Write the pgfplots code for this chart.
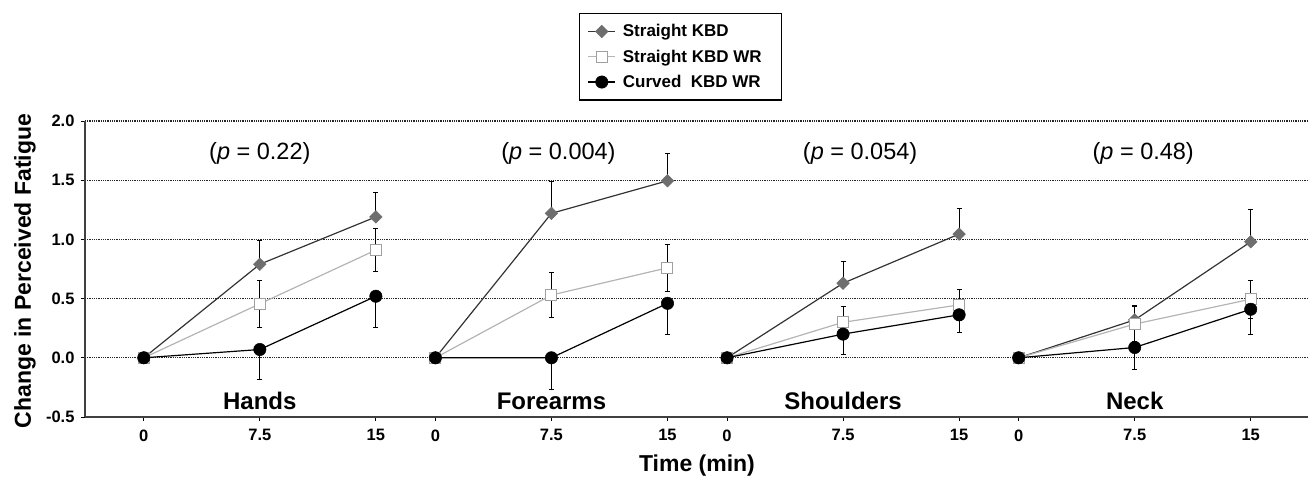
\documentclass[border=0pt]{standalone}
\usepackage{fontspec}
\setmainfont{Liberation Sans}
\usepackage{pgfplots}
\pgfplotsset{compat=1.18}
\definecolor{skline}{HTML}{333333}
\definecolor{skfill}{HTML}{6E6E6E}
\definecolor{wrline}{HTML}{B4B4B4}
\definecolor{wrmark}{HTML}{A0A0A0}
\pgfplotsset{
  skst/.style={draw=skline, line width=1.2bp, mark=diamond*, mark size=6.3bp,
    mark options={fill=skfill, draw=skfill, line width=0.5bp, xscale=1.33},
    error bars/.cd, y dir=plus, y explicit,
    error bar style={black, line width=1bp},
    error mark options={black, line width=1bp, rotate=90, mark size=2.5bp}, /pgfplots/.cd},
  wrst/.style={draw=wrline, line width=1.2bp, mark=square*, mark size=5.5bp,
    mark options={fill=white, draw=wrmark, line width=1bp},
    error bars/.cd, y dir=both, y explicit,
    error bar style={black, line width=1bp},
    error mark options={black, line width=1bp, rotate=90, mark size=2.5bp}, /pgfplots/.cd},
  ckst/.style={draw=black, line width=1.2bp, mark=*, mark size=6.2bp,
    mark options={fill=black, draw=black, line width=0.5bp},
    error bars/.cd, y dir=minus, y explicit,
    error bar style={black, line width=1bp},
    error mark options={black, line width=1bp, rotate=90, mark size=2.5bp}, /pgfplots/.cd},
}
\begin{document}
\begin{tikzpicture}
\useasboundingbox (-85bp,-61bp) rectangle (1224bp,417bp);
\begin{axis}[
  scale only axis, width=1223bp, height=296bp,
  xmin=-3.8, xmax=75.25, ymin=-0.5, ymax=2.0,
  axis x line*=bottom, axis y line*=left,
  axis line style={line width=1.2bp, draw=black!75, -},
  ytick={-0.5,0,0.5,1,1.5,2},
  yticklabel style={/pgf/number format/fixed, /pgf/number format/fixed zerofill, /pgf/number format/precision=1, xshift=-3bp},
  xticklabel style={yshift=-5bp},
  xtick={0,7.5,15,18.85,26.35,33.85,37.7,45.2,52.7,56.55,64.05,71.55},
  xticklabels={0,7.5,15,0,7.5,15,0,7.5,15,0,7.5,15},
  tick align=outside, major tick length=4bp,
  tick style={black, line width=0.8bp},
  ymajorgrids, grid style={black!85, dash pattern=on 1bp off 0.8bp, line width=1.2bp},
  /pgf/number format/assume math mode=true,
  tick label style={font=\fontsize{16.5bp}{19bp}\selectfont\bfseries},
  ylabel={Change in Perceived Fatigue},
  ylabel style={at={(axis description cs:-0.049,0.493)}, anchor=center, font=\fontsize{23bp}{26bp}\selectfont\bfseries},
  xlabel={Time (min)},
  xlabel style={at={(axis description cs:0.5004,-0.1655)}, anchor=center, font=\fontsize{23bp}{26bp}\selectfont\bfseries},
  legend style={at={(axis description cs:0.404,1.365)}, anchor=north west, draw=black, line width=1.2bp,
    font=\fontsize{17bp}{19bp}\selectfont\bfseries, cells={anchor=west}, row sep=7.5bp, inner xsep=8bp, inner ysep=9bp,
    /tikz/every odd column/.append style={column sep=5bp}},
  legend image code/.code={\draw[mark repeat=2,mark phase=2,#1] plot coordinates {(0bp,0bp) (13.5bp,0bp) (27bp,0bp)};},
]
% Hands
\addplot[skst] coordinates {(0,0) +- (0,0) (7.5,0.79) +- (0,0.20) (15,1.19) +- (0,0.21)};
\addlegendentry{Straight KBD}
\addplot[wrst] coordinates {(0,0) +- (0,0) (7.5,0.456) +- (0,0.20) (15,0.91) +- (0,0.18)};
\addlegendentry{Straight KBD WR\hspace*{10bp}}
\addplot[ckst] coordinates {(0,0) +- (0,0) (7.5,0.07) +- (0,0.25) (15,0.52) +- (0,0.26)};
\addlegendentry{Curved\ \ KBD WR}
% Forearms
\addplot[forget plot, skst] coordinates {(18.85,0) +- (0,0) (26.35,1.22) +- (0,0.27) (33.85,1.495) +- (0,0.23)};
\addplot[forget plot, wrst] coordinates {(18.85,0) +- (0,0) (26.35,0.53) +- (0,0.19) (33.85,0.76) +- (0,0.20)};
\addplot[forget plot, ckst] coordinates {(18.85,0) +- (0,0) (26.35,0.0) +- (0,0.265) (33.85,0.46) +- (0,0.26)};
% Shoulders
\addplot[forget plot, skst] coordinates {(37.7,0) +- (0,0) (45.2,0.63) +- (0,0.18) (52.7,1.045) +- (0,0.215)};
\addplot[forget plot, wrst] coordinates {(37.7,0) +- (0,0) (45.2,0.30) +- (0,0.13) (52.7,0.447) +- (0,0.13)};
\addplot[forget plot, ckst] coordinates {(37.7,0) +- (0,0) (45.2,0.20) +- (0,0.175) (52.7,0.363) +- (0,0.15)};
% Neck
\addplot[forget plot, skst] coordinates {(56.55,0) +- (0,0) (64.05,0.32) +- (0,0.12) (71.55,0.98) +- (0,0.275)};
\addplot[forget plot, wrst] coordinates {(56.55,0) +- (0,0) (64.05,0.285) +- (0,0.15) (71.55,0.495) +- (0,0.16)};
\addplot[forget plot, ckst] coordinates {(56.55,0) +- (0,0) (64.05,0.087) +- (0,0.19) (71.55,0.41) +- (0,0.21)};
% labels
\node[anchor=base, font=\fontsize{23.5bp}{28bp}\selectfont] at (axis cs:7.5,1.672) {(\textit{p} = 0.22)};
\node[anchor=base, font=\fontsize{23.5bp}{28bp}\selectfont] at (axis cs:26.8,1.672) {(\textit{p} = 0.004)};
\node[anchor=base, font=\fontsize{23.5bp}{28bp}\selectfont] at (axis cs:46.3,1.672) {(\textit{p} = 0.054)};
\node[anchor=base, font=\fontsize{23.5bp}{28bp}\selectfont] at (axis cs:64.6,1.672) {(\textit{p} = 0.48)};
\node[anchor=base, font=\fontsize{24bp}{28bp}\selectfont\bfseries] at (axis cs:7.5,-0.44) {Hands};
\node[anchor=base, font=\fontsize{24bp}{28bp}\selectfont\bfseries] at (axis cs:26.35,-0.44) {Forearms};
\node[anchor=base, font=\fontsize{24bp}{28bp}\selectfont\bfseries] at (axis cs:45.2,-0.44) {Shoulders};
\node[anchor=base, font=\fontsize{24bp}{28bp}\selectfont\bfseries] at (axis cs:64.05,-0.44) {Neck};
\end{axis}
\end{tikzpicture}
\end{document}
